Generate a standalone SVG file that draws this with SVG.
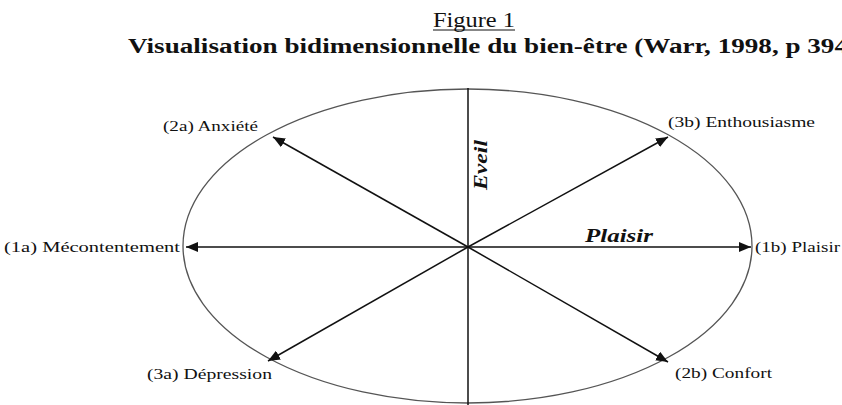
<svg xmlns="http://www.w3.org/2000/svg" width="842" height="405" viewBox="0 0 842 405">
<defs>
<style>
.lbl{font-family:"Liberation Serif","Times New Roman",serif;font-size:15px;fill:#111}
.ax{font-family:"Liberation Serif","Times New Roman",serif;font-size:18px;font-weight:bold;font-style:italic;fill:#111}
.conn line{stroke:#111;stroke-width:1.5}
</style>
<marker id="ah" viewBox="0 0 12 10" refX="12" refY="5" markerWidth="12" markerHeight="10" markerUnits="userSpaceOnUse" orient="auto">
<path d="M0,0 L12,5 L0,10 Z" fill="#111"/>
</marker>
</defs>
<rect width="842" height="405" fill="#fff"/>
<g id="title">
<text x="474" y="27" text-anchor="middle" font-family="Liberation Serif, serif" font-size="20" fill="#111" textLength="82" lengthAdjust="spacingAndGlyphs">Figure 1</text>
<line x1="433" y1="30" x2="515" y2="30" stroke="#111" stroke-width="1.2"/>
<text x="128" y="53" font-family="Liberation Serif, serif" font-size="20" font-weight="bold" fill="#111" textLength="720" lengthAdjust="spacingAndGlyphs">Visualisation bidimensionnelle du bien-être (Warr, 1998, p 394</text>
</g>
<g id="ellipse">
<ellipse cx="467.5" cy="246" rx="284.5" ry="157" fill="none" stroke="#555" stroke-width="1.3"/>
</g>
<g class="conn" id="connectors">
<line x1="468" y1="88" x2="468" y2="405"/>
<line x1="468" y1="247" x2="751" y2="247" marker-end="url(#ah)"/>
<line x1="468" y1="247" x2="186" y2="247" marker-end="url(#ah)"/>
<line x1="468" y1="247" x2="273" y2="137" marker-end="url(#ah)"/>
<line x1="468" y1="247" x2="668" y2="137" marker-end="url(#ah)"/>
<line x1="468" y1="247" x2="268" y2="361" marker-end="url(#ah)"/>
<line x1="468" y1="247" x2="668" y2="362" marker-end="url(#ah)"/>
</g>
<g id="n-2a"><text class="lbl" x="163" y="131" textLength="95" lengthAdjust="spacingAndGlyphs">(2a) Anxiété</text></g>
<g id="n-3b"><text class="lbl" x="668" y="127" textLength="147" lengthAdjust="spacingAndGlyphs">(3b) Enthousiasme</text></g>
<g id="n-1a"><text class="lbl" x="4" y="252" textLength="176" lengthAdjust="spacingAndGlyphs">(1a) Mécontentement</text></g>
<g id="n-1b"><text class="lbl" x="755" y="252" textLength="85" lengthAdjust="spacingAndGlyphs">(1b) Plaisir</text></g>
<g id="n-3a"><text class="lbl" x="147" y="379" textLength="125" lengthAdjust="spacingAndGlyphs">(3a) Dépression</text></g>
<g id="n-2b"><text class="lbl" x="675" y="378" textLength="97" lengthAdjust="spacingAndGlyphs">(2b) Confort</text></g>
<g id="axis-plaisir"><text class="ax" x="585" y="242" textLength="68" lengthAdjust="spacingAndGlyphs">Plaisir</text></g>
<g id="axis-eveil"><text class="ax" transform="translate(487,190) rotate(-90)" x="0" y="0" textLength="50" lengthAdjust="spacingAndGlyphs">Eveil</text></g>
</svg>
